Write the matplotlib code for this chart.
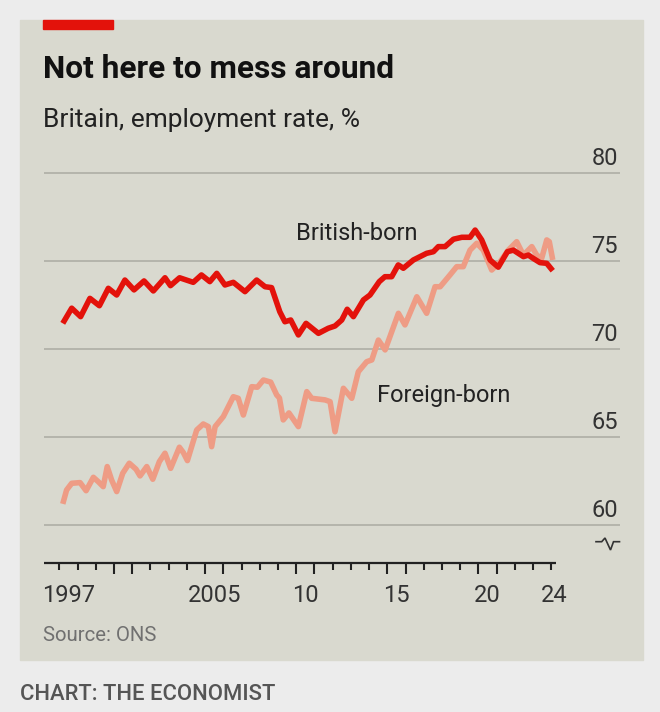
import matplotlib
matplotlib.use("Agg")
import matplotlib.pyplot as plt
from matplotlib.patches import Rectangle
from matplotlib.lines import Line2D
import matplotlib.transforms as mtrans

# ---------------- data ----------------
british_x = [1997.19, 1997.68, 1998.17, 1998.68, 1999.2, 1999.69, 2000.15, 2000.6,
             2001.1, 2001.65, 2002.16, 2002.8, 2003.1, 2003.6, 2004.35, 2004.8,
             2005.26, 2005.64, 2006.09, 2006.55, 2007.19, 2007.83, 2008.29, 2008.65,
             2009.1, 2009.38, 2009.7, 2010.12, 2010.54, 2011.22, 2011.76, 2012.13,
             2012.5, 2012.8, 2013.14, 2013.69, 2014.05, 2014.56, 2014.87, 2015.24,
             2015.6, 2015.88, 2016.43, 2017.16, 2017.53, 2017.8, 2018.17, 2018.63,
             2019.09, 2019.54, 2019.82, 2020.18, 2020.64, 2021.09, 2021.59, 2021.92,
             2022.47, 2022.74, 2023.01, 2023.38, 2023.75, 2024.08]
british_y = [71.44, 72.30, 71.82, 72.86, 72.44, 73.43, 73.05, 73.90,
             73.34, 73.85, 73.28, 74.03, 73.58, 74.03, 73.77, 74.19,
             73.81, 74.28, 73.62, 73.77, 73.24, 73.90, 73.52, 73.47,
             72.10, 71.53, 71.63, 70.78, 71.44, 70.87, 71.16, 71.29,
             71.63, 72.24, 71.82, 72.77, 73.05, 73.81, 74.09, 74.09,
             74.76, 74.57, 75.04, 75.42, 75.51, 75.80, 75.80, 76.22,
             76.33, 76.33, 76.74, 76.18, 75.04, 74.63, 75.51, 75.60,
             75.23, 75.32, 75.13, 74.89, 74.85, 74.43]

foreign_x = [1997.19, 1997.4, 1997.68, 1998.14, 1998.47, 1998.87, 1999.14, 1999.41,
             1999.63, 1999.87, 2000.15, 2000.48, 2000.84, 2001.21, 2001.43, 2001.8,
             2002.13, 2002.49, 2002.8, 2003.11, 2003.59, 2003.81, 2004.03, 2004.54,
             2004.9, 2005.18, 2005.36, 2005.55, 2006.0, 2006.55, 2006.82, 2007.1,
             2007.56, 2007.87, 2008.2, 2008.6, 2008.93, 2009.08, 2009.29, 2009.6,
             2010.12, 2010.58, 2010.85, 2011.58, 2011.86, 2012.13, 2012.59, 2013.05,
             2013.41, 2013.87, 2014.15, 2014.51, 2014.88, 2015.61, 2015.97, 2016.62,
             2017.16, 2017.62, 2017.9, 2018.44, 2018.81, 2019.17, 2019.54, 2019.91,
             2020.27, 2020.73, 2021.19, 2021.64, 2022.1, 2022.47, 2022.93, 2023.2,
             2023.47, 2023.75, 2023.89, 2024.08]
foreign_y = [61.18, 61.97, 62.35, 62.39, 61.93, 62.69, 62.44, 62.16,
             63.30, 62.54, 61.88, 62.92, 63.49, 63.15, 62.77, 63.30,
             62.58, 63.58, 64.06, 63.20, 64.40, 64.09, 63.64, 65.38,
             65.72, 65.57, 64.43, 65.57, 66.14, 67.27, 67.18, 66.23,
             67.84, 67.81, 68.22, 68.10, 67.37, 67.20, 65.95, 66.35,
             65.57, 67.56, 67.18, 67.09, 66.99, 65.28, 67.75, 67.18,
             68.69, 69.26, 69.36, 70.49, 69.93, 72.01, 71.35, 72.95,
             72.01, 73.52, 73.52, 74.19, 74.66, 74.66, 75.60, 75.99,
             75.60, 74.47, 74.94, 75.60, 76.08, 75.32, 75.80, 75.32,
             75.13, 76.18, 76.08, 75.04]

y_ticks = [60, 65, 70, 75, 80]
y_tick_labels = ["60", "65", "70", "75", "80"]
year_ticks = list(range(1997, 2025))
long_tick_years = [2000, 2005, 2010, 2015, 2020]
x_label_years = [1997, 2005, 2010, 2015, 2020, 2024]
x_labels = ["1997", "2005", "10", "15", "20", "24"]

title = "Not here to mess around"
subtitle = "Britain, employment rate, %"
source = "Source: ONS"
credit = "CHART: THE ECONOMIST"

# ---------------- style ----------------
FONT = "Roboto"
OUTER = "#ececec"
PANEL = "#d9d9cf"
RED = "#e3120b"
SALMON = "#ee9c85"
GRID = "#aeaea5"
TEXT = "#222222"
AXIS = "#222222"

W, H = 660, 712
fig = plt.figure(figsize=(W / 100, H / 100), dpi=100, facecolor=OUTER)

def fx(px):
    return px / W

def fy(py):
    return 1 - py / H

# panel (behind the axes)
fig.patches.append(Rectangle((fx(20), fy(660)), fx(643) - fx(20), fy(20) - fy(660),
                             transform=fig.transFigure, color=PANEL, zorder=-10))
# red bar
fig.patches.append(Rectangle((fx(43), fy(29)), fx(113) - fx(43), fy(20) - fy(29),
                             transform=fig.transFigure, color=RED, zorder=-5))

fig.text(fx(43), fy(78.5), title, family=FONT, weight="bold", fontsize=22.8,
         color="#111111", va="baseline", ha="left")
fig.text(fx(43), fy(126.5), subtitle, family=FONT, fontsize=19,
         color=TEXT, va="baseline", ha="left")
fig.text(fx(43), fy(641), source, family=FONT, fontsize=14.7,
         color="#707070", va="baseline", ha="left")
fig.text(fx(20), fy(700), credit, family=FONT, weight="medium", fontsize=15.8,
         color="#555555", va="baseline", ha="left")

# axes: extended below the x-axis line so the ticks sit inside the axes area
x_start, x_end_axis, x_end = 1996.16, 2024.27, 2027.77
PX_PER_UNIT = 17.6
y_axis_line = 57.81
y_bottom, y_top = 55.15, 81.29
ax = fig.add_axes([fx(44), fy(610), fx(620) - fx(44), fy(150) - fy(610)])
ax.patch.set_visible(False)
ax.set_zorder(2)
ax.set_xlim(x_start, x_end)
ax.set_ylim(y_bottom, y_top)

for s in ["top", "right", "left", "bottom"]:
    ax.spines[s].set_visible(False)
ax.set_xticks([])
ax.set_yticks(y_ticks)
ax.tick_params(axis="y", length=0, labelleft=False)
ax.grid(axis="y", color=GRID, linewidth=1.2)

# x-axis line and year ticks (short every year, long around labelled years)
ax.hlines(y_axis_line, x_start, x_end_axis, colors=AXIS, linewidth=1.6, zorder=6)
long_set = set(long_tick_years + [y + 1 for y in long_tick_years])
short_years = [y for y in year_ticks if y not in long_set]
long_years = [y for y in year_ticks if y in long_set]
ax.vlines(short_years, y_axis_line - 6.5 / PX_PER_UNIT, y_axis_line, colors=AXIS,
          linewidth=1.5, zorder=6)
ax.vlines(long_years, y_axis_line - 11.0 / PX_PER_UNIT, y_axis_line, colors=AXIS,
          linewidth=1.5, zorder=6)

# y labels above gridlines, right aligned
ytrans = mtrans.offset_copy(mtrans.blended_transform_factory(ax.transAxes, ax.transData),
                            fig=fig, x=-1.5, y=5.4, units="points")
for v, lab in zip(y_ticks, y_tick_labels):
    ax.text(1.0, v, lab, transform=ytrans, ha="right", va="baseline",
            family=FONT, fontsize=17, color="#333333")

# x labels centred in the (visible part of the) year interval
y_xlabel = y_axis_line - 39.0 / PX_PER_UNIT
for yr, lab in zip(x_label_years, x_labels):
    pos = min(yr + 0.5, (yr + x_end_axis) / 2)
    ax.text(pos, y_xlabel, lab, ha="center", va="baseline",
            family=FONT, fontsize=17, color="#333333", clip_on=False)

# lines
ax.plot(foreign_x, foreign_y, color=SALMON, linewidth=4.0, solid_joinstyle="round",
        solid_capstyle="butt", zorder=3)
ax.plot(british_x, british_y, color=RED, linewidth=4.0, solid_joinstyle="round",
        solid_capstyle="butt", zorder=4)

ax.text(2010.0, 76.18, "British-born", family=FONT, fontsize=17, color=TEXT,
        ha="left", va="baseline", zorder=5)
ax.text(2014.44, 66.97, "Foreign-born", family=FONT, fontsize=17, color=TEXT,
        ha="left", va="baseline", zorder=5)

# axis-break symbol
bx = [596, 601.7, 605, 610.5, 613.5, 619.5]
by = [541.7, 541.7, 538.0, 550.0, 541.7, 541.7]
fig.lines.append(Line2D([fx(v) for v in bx], [fy(v) for v in by], transform=fig.transFigure,
                        color="#333333", linewidth=1.2, solid_joinstyle="miter"))

fig.savefig("out.png", dpi=100, facecolor=OUTER)
